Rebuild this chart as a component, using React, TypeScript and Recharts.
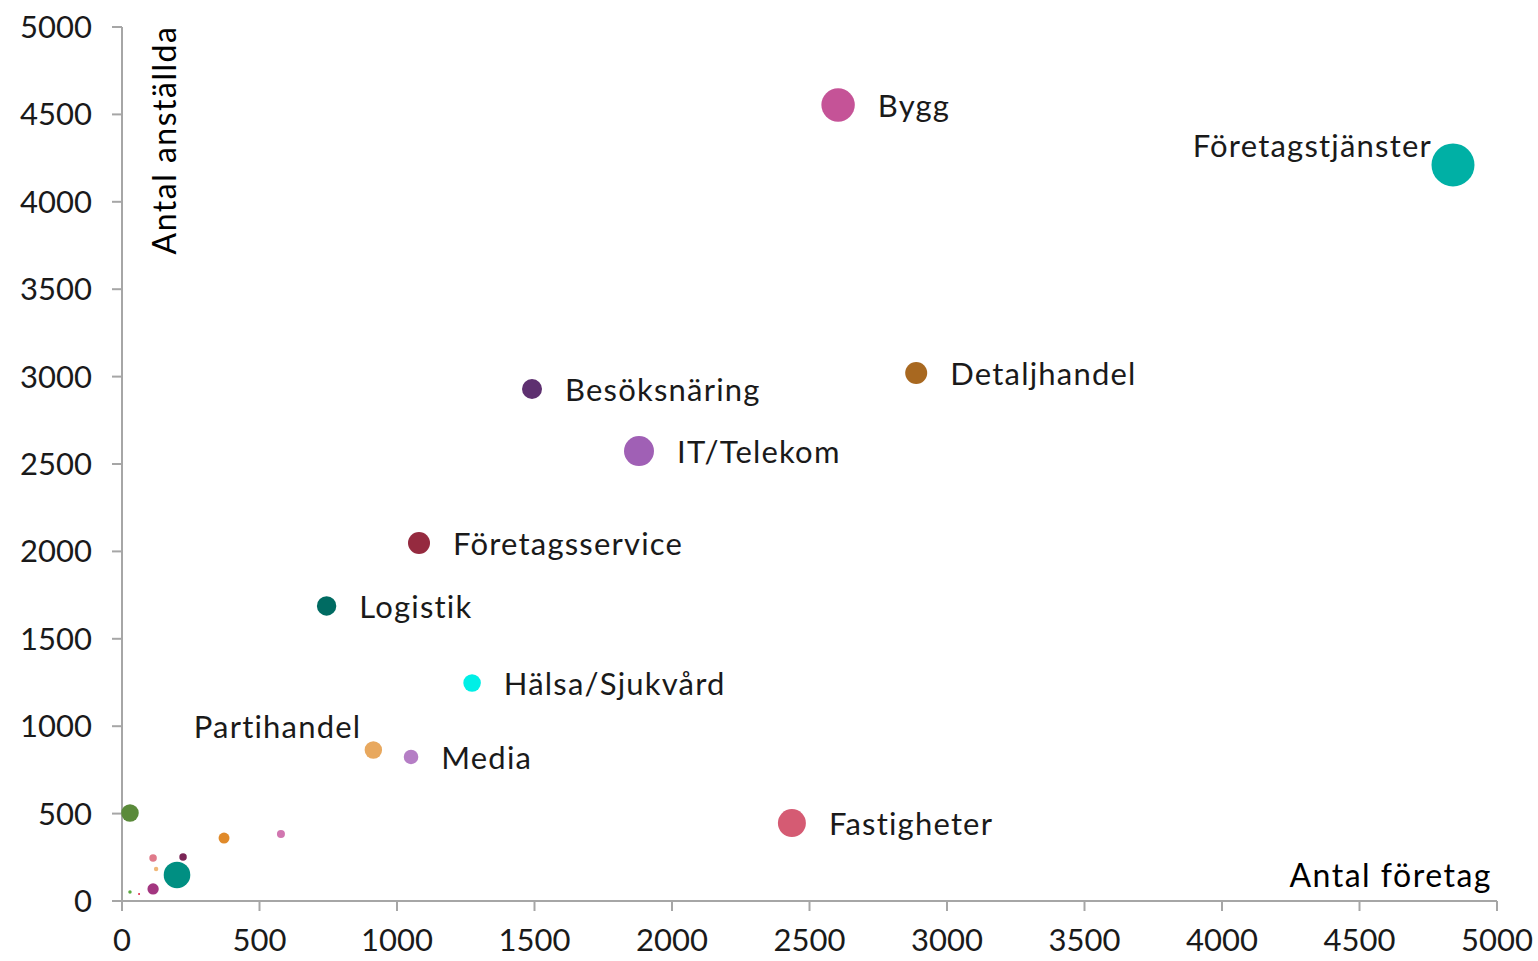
import { ScatterChart, Scatter, XAxis, YAxis, ZAxis, Label } from 'recharts';

// branscher: antal företag (x), antal anställda (y), bubbelstorlek (z)
const branscher = [
  'Företagstjänster', 'Bygg', 'IT/Telekom', 'Fastigheter', 'Detaljhandel',
  'Företagsservice', 'Besöksnäring', 'Logistik', 'Hälsa/Sjukvård', 'Partihandel', 'Media',
  '', '', '', '', '', '', '', '', '', '',
];
const antalForetag = [
  4840, 2604, 1880, 2436, 2888,
  1080, 1491, 744, 1273, 914, 1051,
  200, 29, 113, 371, 578, 222, 113, 124, 29, 62,
];
const antalAnstallda = [
  4211, 4554, 2574, 446, 3021,
  2048, 2929, 1688, 1247, 864, 824,
  149, 503, 69, 360, 383, 252, 246, 183, 51, 40,
];
const storlek = [
  462, 279, 225, 196, 121,
  121, 100, 94, 77, 76, 53,
  177, 77, 32, 30, 16, 14, 14, 5, 3, 1,
];
const farger = [
  '#00b0a5', '#c55397', '#a060b5', '#d55b73', '#a86820',
  '#952a3f', '#5e3070', '#006b62', '#00efe6', '#e8a85e', '#b57ec5',
  '#008f82', '#5a8a3a', '#a33680', '#e08a2a', '#d176b0', '#7a2556', '#e07a8a', '#f0b878', '#5aaa40', '#e02040',
];
const axelTicks = [0, 500, 1000, 1500, 2000, 2500, 3000, 3500, 4000, 4500, 5000];

const data = branscher.map((name, i) => ({
  name,
  x: antalForetag[i],
  y: antalAnstallda[i],
  z: storlek[i],
  color: farger[i],
}));

const FONT = 'Lato, "Noto Sans", sans-serif';
const AXIS = '#a6a6a6';

// labels that don't sit to the right of their bubble
const specialLabels: Record<string, { dx: number; dy: number }> = {
  'Företagstjänster': { dx: -21, dy: -8 },
  Partihandel: { dx: -12, dy: -12 },
};

function Bubble(props: any) {
  const { cx, cy, width, payload } = props;
  const r = width / 2;
  const special = specialLabels[payload.name];
  return (
    <g>
      <circle cx={cx} cy={cy} r={r} fill={payload.color} />
      {payload.name && (
        <text
          x={special ? cx + special.dx : cx + r + 23}
          y={special ? cy + special.dy : cy + 12}
          textAnchor={special ? 'end' : 'start'}
          fontFamily={FONT}
          fontSize={31}
          letterSpacing={1.2}
          fill="#1a1a1a"
        >
          {payload.name}
        </text>
      )}
    </g>
  );
}

export default function App() {
  return (
    <div style={{ position: 'absolute', left: 0, top: 0, background: '#fff' }}>
      <ScatterChart width={1538} height={961} margin={{ top: 27, right: 41, bottom: 0, left: 0 }}>
        <XAxis
          type="number"
          dataKey="x"
          domain={[0, 5000]}
          ticks={axelTicks}
          height={60}
          stroke={AXIS}
          strokeWidth={2}
          tickSize={10}
          tickMargin={18}
          tick={{ fill: '#1a1a1a', fontSize: 31, fontFamily: FONT }}
        >
          <Label
            content={() => (
              <text x={1492} y={887} textAnchor="end" fontFamily={FONT} fontSize={32} letterSpacing={1.5} fill="#000">
                Antal företag
              </text>
            )}
          />
        </XAxis>
        <YAxis
          type="number"
          dataKey="y"
          domain={[0, 5000]}
          ticks={axelTicks}
          width={122}
          stroke={AXIS}
          strokeWidth={2}
          tickSize={10}
          tickMargin={20}
          tick={{ fill: '#1a1a1a', fontSize: 31, fontFamily: FONT }}
        >
          <Label
            content={() => (
              <text
                x={163}
                y={140}
                transform="rotate(-90 163 140)"
                textAnchor="middle"
                dominantBaseline="central"
                fontFamily={FONT}
                fontSize={32}
                letterSpacing={1.5}
                fill="#000"
              >
                Antal anställda
              </text>
            )}
          />
        </YAxis>
        <ZAxis type="number" dataKey="z" domain={[0, 500]} range={[0, 500 * Math.PI]} />
        <Scatter data={data} shape={Bubble} isAnimationActive={false} />
      </ScatterChart>
    </div>
  );
}
